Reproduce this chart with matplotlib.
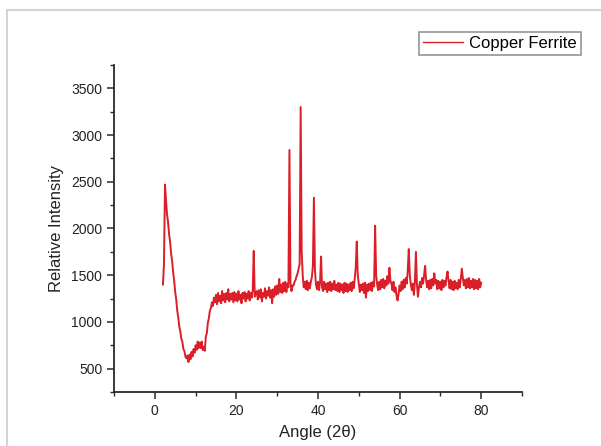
import numpy as np
import matplotlib
matplotlib.use("Agg")
import matplotlib.pyplot as plt
from matplotlib.lines import Line2D

plt.rcParams['font.family'] = ['Liberation Sans', 'DejaVu Sans']

# XRD scan, 2-theta from 2 to 80 deg in 0.25 deg steps
angle_start = 2.0
angle_step = 0.25
intensity = [
    1400, 1620, 2470, 2300,   # 2
    2150, 2070, 1940, 1860,   # 3
    1730, 1650, 1530, 1440,   # 4
    1320, 1240, 1120, 1050,   # 5
    950, 900, 820, 790,       # 6
    710, 690, 630, 610,       # 7
    640, 570, 650, 600,       # 8
    680, 630, 710, 670,       # 9
    750, 700, 790, 720,       # 10
    780, 720, 790, 700,       # 11
    730, 690, 840, 880,       # 12
    990, 1040, 1120, 1150,    # 13
    1210, 1170, 1260, 1210,   # 14
    1290, 1190, 1310, 1220,   # 15
    1280, 1200, 1330, 1230,   # 16
    1300, 1210, 1310, 1240,   # 17
    1350, 1220, 1300, 1240,   # 18
    1310, 1210, 1320, 1230,   # 19
    1300, 1220, 1330, 1240,   # 20
    1290, 1200, 1310, 1250,   # 21
    1320, 1220, 1300, 1250,   # 22
    1330, 1230, 1310, 1260,   # 23
    1340, 1760, 1270, 1310,   # 24
    1330, 1240, 1340, 1260,   # 25
    1350, 1220, 1310, 1270,   # 26
    1360, 1250, 1330, 1280,   # 27
    1370, 1260, 1340, 1200,   # 28
    1350, 1270, 1380, 1290,   # 29
    1390, 1300, 1460, 1320,   # 30
    1400, 1310, 1420, 1330,   # 31
    1430, 1320, 1410, 1370,   # 32
    2840, 1420, 1330, 1390,   # 33
    1390, 1430, 1450, 1490,   # 34
    1520, 1570, 1620, 3300,   # 35
    1750, 1500, 1370, 1430,   # 36
    1350, 1440, 1340, 1420,   # 37
    1360, 1430, 1480, 1600,   # 38
    2330, 1550, 1400, 1350,   # 39
    1430, 1340, 1420, 1700,   # 40
    1370, 1330, 1430, 1350,   # 41
    1410, 1320, 1420, 1340,   # 42
    1430, 1330, 1410, 1350,   # 43
    1440, 1340, 1400, 1330,   # 44
    1420, 1320, 1410, 1340,   # 45
    1400, 1310, 1420, 1330,   # 46
    1410, 1320, 1400, 1340,   # 47
    1420, 1330, 1430, 1360,   # 48
    1460, 1580, 1860, 1500,   # 49
    1410, 1320, 1400, 1340,   # 50
    1410, 1310, 1420, 1260,   # 51
    1400, 1330, 1410, 1340,   # 52
    1420, 1330, 1430, 1380,   # 53
    2030, 1500, 1400, 1340,   # 54
    1430, 1350, 1450, 1370,   # 55
    1460, 1360, 1440, 1390,   # 56
    1490, 1410, 1580, 1440,   # 57
    1410, 1340, 1430, 1320,   # 58
    1370, 1280, 1230, 1300,   # 59
    1390, 1330, 1430, 1350,   # 60
    1450, 1370, 1470, 1410,   # 61
    1550, 1780, 1500, 1400,   # 62
    1340, 1410, 1290, 1430,   # 63
    1750, 1400, 1270, 1370,   # 64
    1430, 1370, 1470, 1410,   # 65
    1500, 1600, 1450, 1370,   # 66
    1440, 1350, 1450, 1360,   # 67
    1460, 1390, 1520, 1410,   # 68
    1450, 1350, 1440, 1360,   # 69
    1430, 1340, 1450, 1370,   # 70
    1440, 1390, 1480, 1540,   # 71
    1440, 1360, 1450, 1350,   # 72
    1430, 1340, 1440, 1360,   # 73
    1420, 1350, 1450, 1370,   # 74
    1460, 1570, 1470, 1390,   # 75
    1450, 1360, 1460, 1370,   # 76
    1470, 1360, 1440, 1370,   # 77
    1460, 1350, 1450, 1360,   # 78
    1440, 1350, 1460, 1370,   # 79
    1420,                     # 80
]
angle = angle_start + angle_step * np.arange(len(intensity))

x_ticks = [0, 20, 40, 60, 80]
y_ticks = [500, 1000, 1500, 2000, 2500, 3000, 3500]

fig = plt.figure(figsize=(6.01, 4.46), dpi=100)

# light grey frame round the figure (top and left edges visible)
fig.add_artist(Line2D([7/601, 1.0], [1 - 10/446, 1 - 10/446], color='#d4d4d4', lw=1.5))
fig.add_artist(Line2D([7/601, 7/601], [0.0, 1 - 10/446], color='#d4d4d4', lw=1.5))

ax = fig.add_axes([114/601, 1 - 392/446, 408/601, 327/446])
ax.plot(angle, intensity, color='#dc1e28', lw=1.4, label='Copper Ferrite')

ax.set_xlim(-10, 90)
ax.set_ylim(250, 3750)
ax.set_xticks(x_ticks)
ax.set_xticks(range(-10, 91, 10), minor=True)
ax.set_yticks(y_ticks)
ax.set_yticks(range(250, 3751, 250), minor=True)

for s in ['top', 'right']:
    ax.spines[s].set_visible(False)
for s in ['left', 'bottom']:
    ax.spines[s].set_color('#2a2a2a')
    ax.spines[s].set_linewidth(1.3)

ax.tick_params(which='major', direction='out', length=5, width=1.1, color='#2a2a2a',
               labelsize=10, labelcolor='#222222')
ax.tick_params(which='minor', direction='out', length=3, width=1.0, color='#2a2a2a')

ax.set_xlabel('Angle (2θ)', fontsize=12, color='#222222', labelpad=5)
ax.set_ylabel('Relative Intensity', fontsize=12, color='#222222', labelpad=5)

leg = ax.legend(loc='upper right', bbox_to_anchor=(581/601, 1 - 32/446),
                bbox_transform=fig.transFigure, fontsize=12, frameon=True,
                fancybox=False, handlelength=2.4, borderpad=0.25, handletextpad=0.35,
                borderaxespad=0)
leg.get_frame().set_edgecolor('#7a7a7a')
leg.get_frame().set_linewidth(1.2)
for line in leg.get_lines():
    line.set_linewidth(1.0)

fig.savefig('out.png', dpi=100)
